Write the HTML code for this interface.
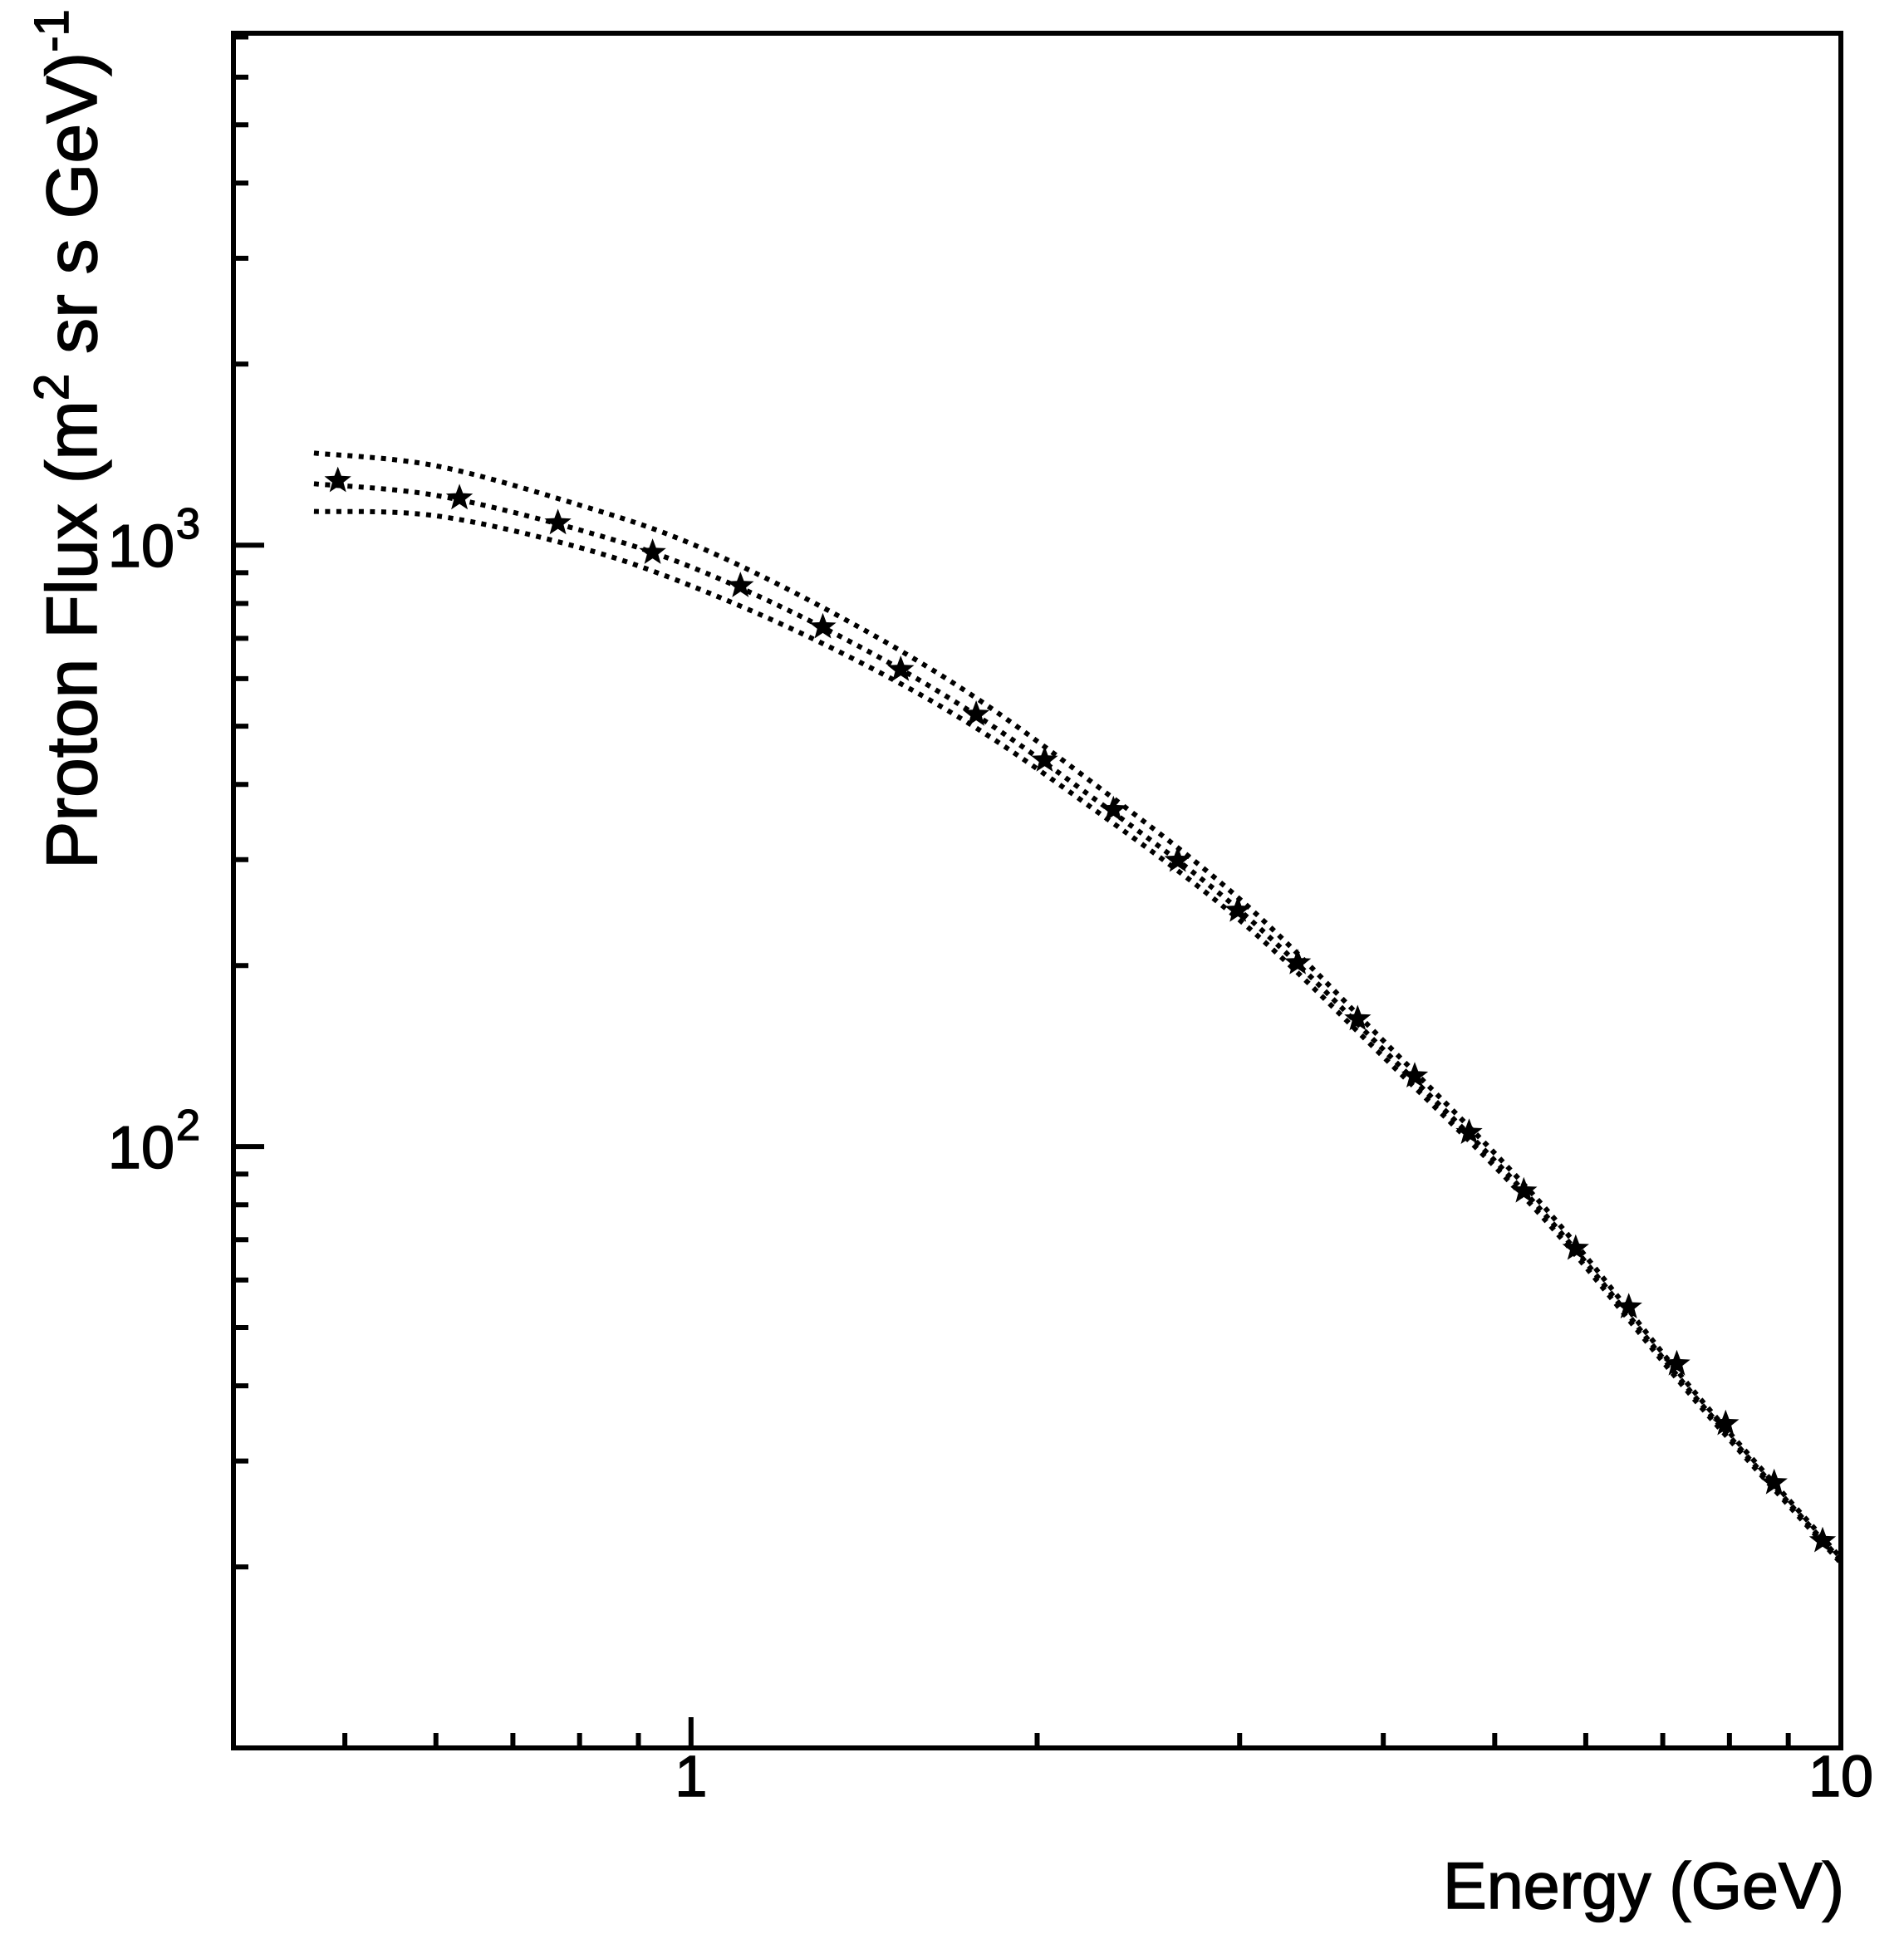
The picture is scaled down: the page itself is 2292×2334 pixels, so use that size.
<!DOCTYPE html>
<html><head><meta charset="utf-8"><style>
html,body{margin:0;padding:0;background:#fff}
svg{display:block}
text{font-family:"Liberation Sans",sans-serif;fill:#000;stroke:#000;stroke-width:1.5}
</style></head><body>
<svg id="chart" width="2292" height="2334" viewBox="0 0 2292 2334" xmlns="http://www.w3.org/2000/svg">
<g id="marks"></g>
<g id="axes"></g>
<text x="2220" y="2297" font-size="79" text-anchor="end">Energy (GeV)</text>
<text transform="translate(116,1046) rotate(-90)" font-size="86">Proton Flux (m<tspan dy="-34" font-size="58">2</tspan><tspan dy="34"> sr s GeV)</tspan><tspan dy="-34" font-size="58">-1</tspan></text>
</svg>
<script>
const energies = [0.493,0.629,0.766,0.926,1.104,1.302,1.522,1.77,2.03,2.33,2.65,2.99,3.37,3.80,4.26,4.75,5.30,5.88,6.54,7.2,7.94,8.75,9.64];
const fluxValues = [1280,1198,1089,972,856,731,621,523,439,363,299,247,202,163,131,105.5,84.3,67.7,54.1,43.5,34.6,27.6,22.1];
const curveEnergies = [0.47,0.6,0.8,1,1.3,1.7,2.2,3,4,5.5,7.5,10];
const curveUpper = [1423,1355,1166,1006,789,586,412,258,150,80,38.6,20.7];
const curveMiddle = [1265,1210,1060,920,731,548,389,247,145,78,38,20.5];
const curveLower = [1138,1119,991,856,687,521,373,238,141,76.4,37.5,20.3];
const xMajorTicks = [1,10];
const xMajorLabels = ["1","10"];
const yMajorTicks = [100,1000];
const yMajorExp = ["2","3"];

const X0=281,X1=2216,Y0=40,Y1=2104;
const XMIN=0.4,XMAX=10,YMIN=10,YMAX=7100;
const NS="http://www.w3.org/2000/svg";
function xs(v){return X0+(Math.log10(v)-Math.log10(XMIN))/(Math.log10(XMAX)-Math.log10(XMIN))*(X1-X0);}
function ys(v){return Y1-(Math.log10(v)-Math.log10(YMIN))/(Math.log10(YMAX)-Math.log10(YMIN))*(Y1-Y0);}
function mk(tag,attrs,parent){const e=document.createElementNS(NS,tag);for(const k in attrs)e.setAttribute(k,attrs[k]);parent.appendChild(e);return e;}
const marks=document.getElementById('marks'), axes=document.getElementById('axes');

function curvePath(xv,yv){
  const p=xv.map((x,i)=>[xs(x),ys(yv[i])]);
  let d='M'+p[0][0]+','+p[0][1];
  for(let i=0;i<p.length-1;i++){
    const a=p[Math.max(i-1,0)],b=p[i],c=p[i+1],e=p[Math.min(i+2,p.length-1)];
    const c1=[b[0]+(c[0]-a[0])/6,b[1]+(c[1]-a[1])/6],c2=[c[0]-(e[0]-b[0])/6,c[1]-(e[1]-b[1])/6];
    d+=' C'+c1[0]+','+c1[1]+' '+c2[0]+','+c2[1]+' '+c[0]+','+c[1];
  }
  return d;
}
[['upper-bound-curve',curveUpper],['model-curve',curveMiddle],['lower-bound-curve',curveLower]].forEach(([n,v])=>{
  const el=mk('path',{d:curvePath(curveEnergies,v),fill:'none',stroke:'#000','stroke-width':6,'stroke-dasharray':'6 7.5'},marks);
  
  
});
function starPts(cx,cy,R){const r=R*0.42;let s=[];for(let i=0;i<10;i++){const a=-Math.PI/2+i*Math.PI/5,rr=i%2?r:R;s.push((cx+rr*Math.cos(a)).toFixed(1)+','+(cy+rr*Math.sin(a)).toFixed(1));}return s.join(' ');}
energies.forEach((e,i)=>{
  const el=mk('polygon',{points:starPts(xs(e),ys(fluxValues[i]),17),fill:'#000'},marks);
  
  
});

const fr=mk('rect',{x:X0,y:Y0,width:X1-X0,height:Y1-Y0,fill:'none',stroke:'#000','stroke-width':6},axes);


for(let dec=0.1;dec<=10;dec*=10){for(let m=1;m<10;m++){const v=+(m*dec).toPrecision(3);if(v<XMIN-1e-9||v>XMAX+1e-9)continue;const x=xs(v);const L=(m===1)?37:18;
  const t=mk('line',{x1:x,x2:x,y1:Y1,y2:Y1-L,stroke:'#000','stroke-width':6},axes);
  
  }}
xMajorTicks.forEach((v,i)=>{
  const t=mk('text',{x:xs(v),y:2162,'font-size':70,'text-anchor':'middle'},axes);t.textContent=xMajorLabels[i];
  
  
});
for(let dec=10;dec<=1000;dec*=10){for(let m=1;m<10;m++){const v=m*dec;if(v<YMIN||v>YMAX)continue;const y=ys(v);const L=(m===1)?37:18;
  const t=mk('line',{x1:X0,x2:X0+L,y1:y,y2:y,stroke:'#000','stroke-width':6},axes);
  
  }}
yMajorTicks.forEach((v,i)=>{
  const t=mk('text',{x:210,y:ys(v)+26,'font-size':72,'text-anchor':'end'},axes);t.textContent='10';
  
  
  const s=mk('text',{x:212,y:ys(v)-8,'font-size':52},axes);s.textContent=yMajorExp[i];
  
  
});
</script>
</body></html>
